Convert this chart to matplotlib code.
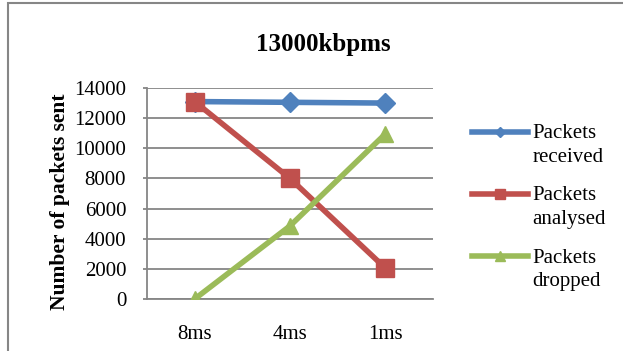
import matplotlib.pyplot as plt
from matplotlib.legend_handler import HandlerLine2D
from matplotlib.patches import Rectangle
from matplotlib.transforms import Affine2D

plt.rcParams['font.family'] = ['Liberation Serif', 'DejaVu Serif']

# Packet counts at 13000 kbpms for each delay setting
delays = ['8ms', '4ms', '1ms']
received = [13100, 13050, 13000]
analysed = [13100, 8000, 2050]
dropped = [0, 4850, 10950]

blue = '#4F81BD'
red = '#C0504D'
green = '#9BBB59'
grey = '#868686'

fig = plt.figure(figsize=(6.23, 3.51), dpi=100)
ax = fig.add_axes([147 / 623, 1 - 299 / 351, 286 / 623, 211 / 351])

x = range(len(delays))
ax.plot(x, received, color=blue, lw=4, marker='D', ms=10, label='Packets\nreceived', zorder=3)
ax.plot(x, analysed, color=red, lw=4, marker='s', ms=13, label='Packets\nanalysed', zorder=4)
ax.plot(x, dropped, color=green, lw=4, marker='^', ms=12, label='Packets\ndropped', zorder=5)

ax.set_xlim(-0.5, len(delays) - 0.5)
ax.set_ylim(0, 14000)
ax.set_xticks(list(x))
ax.set_xticklabels(delays)
ax.set_yticks(range(0, 14001, 2000))

ax.grid(axis='y', color=grey, lw=1.3, zorder=1)
ax.set_axisbelow(True)
for side in ['top', 'right']:
    ax.spines[side].set_visible(False)
for side in ['left', 'bottom']:
    ax.spines[side].set_color(grey)
    ax.spines[side].set_linewidth(1.3)
ax.tick_params(axis='y', length=3, width=1.3, color=grey, pad=12, labelsize=15)
ax.tick_params(axis='x', length=0, pad=19, labelsize=15)

ax.text(-0.304, 0.46, 'Number of packets sent', transform=ax.transAxes,
        rotation=90, ha='center', va='center', fontsize=15.5, fontweight='bold')
fig.text(0.519, 1 - 44 / 351, '13000kbpms', ha='center', va='center',
         fontsize=18, fontweight='bold')


# legend lines sit level with the first line of each two-line label
class TopLineHandler(HandlerLine2D):
    def create_artists(self, legend, orig_handle, xdescent, ydescent,
                       width, height, fontsize, trans):
        trans = trans + Affine2D().translate(0, 13.5)
        return super().create_artists(legend, orig_handle, xdescent, ydescent,
                                      width, height, fontsize, trans)


def small_marker(legend_line, orig_line):
    legend_line.update_from(orig_line)
    legend_line.set_markersize(orig_line.get_markersize() * 0.55)


handler = TopLineHandler(update_func=small_marker)
leg = ax.legend(loc='upper left', bbox_to_anchor=(472 / 623, 1 - 124 / 351),
                bbox_transform=fig.transFigure, frameon=False, fontsize=15,
                handlelength=2.7, handletextpad=0.2, labelspacing=0.93,
                borderpad=0, borderaxespad=0, numpoints=1,
                handler_map={plt.Line2D: handler})
for t in leg.get_texts():
    t.set_linespacing(1.35)

# chart border
fig.add_artist(Rectangle((8 / 623, -0.1), 1.2, 1.1 - 3 / 351, transform=fig.transFigure,
                         fill=False, edgecolor=grey, lw=1.5))

fig.savefig('out.png', dpi=100)
